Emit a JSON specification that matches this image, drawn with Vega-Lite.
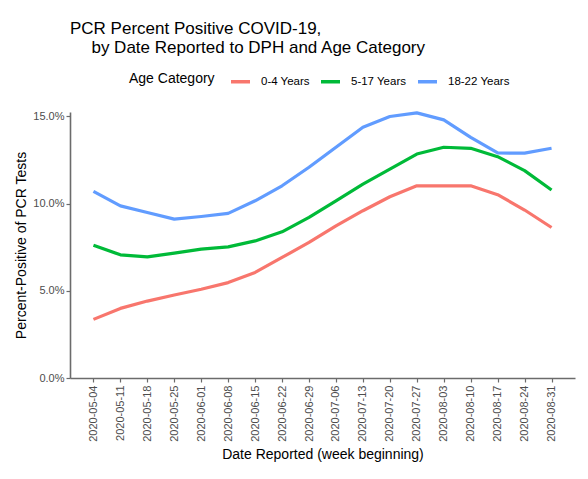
{
  "$schema": "https://vega.github.io/schema/vega-lite/v6.json",
  "width": 505,
  "height": 266,
  "autosize": "none",
  "padding": {"left": 70, "top": 112, "right": 13, "bottom": 101},
  "background": "white",
  "config": {
    "font": "Liberation Sans",
    "view": {"stroke": null},
    "axis": {"grid": false}
  },
  "title": {
    "text": ["PCR Percent Positive COVID-19,", "\u2800\u00a0\u00a0by Date Reported to DPH and Age Category"],
    "anchor": "start",
    "frame": "group",
    "fontSize": 17,
    "fontWeight": "normal",
    "color": "black",
    "lineHeight": 19,
    "offset": 13
  },
  "data": {
    "values": [
      {"week": "2020-05-04", "age": "0-4 Years", "pct": 0.0336},
      {"week": "2020-05-11", "age": "0-4 Years", "pct": 0.0399},
      {"week": "2020-05-18", "age": "0-4 Years", "pct": 0.0441},
      {"week": "2020-05-25", "age": "0-4 Years", "pct": 0.0476},
      {"week": "2020-06-01", "age": "0-4 Years", "pct": 0.0509},
      {"week": "2020-06-08", "age": "0-4 Years", "pct": 0.0547},
      {"week": "2020-06-15", "age": "0-4 Years", "pct": 0.0605},
      {"week": "2020-06-22", "age": "0-4 Years", "pct": 0.0691},
      {"week": "2020-06-29", "age": "0-4 Years", "pct": 0.0777},
      {"week": "2020-07-06", "age": "0-4 Years", "pct": 0.0872},
      {"week": "2020-07-13", "age": "0-4 Years", "pct": 0.0959},
      {"week": "2020-07-20", "age": "0-4 Years", "pct": 0.1039},
      {"week": "2020-07-27", "age": "0-4 Years", "pct": 0.1102},
      {"week": "2020-08-03", "age": "0-4 Years", "pct": 0.1102},
      {"week": "2020-08-10", "age": "0-4 Years", "pct": 0.1102},
      {"week": "2020-08-17", "age": "0-4 Years", "pct": 0.1051},
      {"week": "2020-08-24", "age": "0-4 Years", "pct": 0.0963},
      {"week": "2020-08-31", "age": "0-4 Years", "pct": 0.0863},
      {"week": "2020-05-04", "age": "5-17 Years", "pct": 0.0761},
      {"week": "2020-05-11", "age": "5-17 Years", "pct": 0.0706},
      {"week": "2020-05-18", "age": "5-17 Years", "pct": 0.0694},
      {"week": "2020-05-25", "age": "5-17 Years", "pct": 0.0716},
      {"week": "2020-06-01", "age": "5-17 Years", "pct": 0.0739},
      {"week": "2020-06-08", "age": "5-17 Years", "pct": 0.0752},
      {"week": "2020-06-15", "age": "5-17 Years", "pct": 0.0786},
      {"week": "2020-06-22", "age": "5-17 Years", "pct": 0.0838},
      {"week": "2020-06-29", "age": "5-17 Years", "pct": 0.0921},
      {"week": "2020-07-06", "age": "5-17 Years", "pct": 0.1016},
      {"week": "2020-07-13", "age": "5-17 Years", "pct": 0.1112},
      {"week": "2020-07-20", "age": "5-17 Years", "pct": 0.1198},
      {"week": "2020-07-27", "age": "5-17 Years", "pct": 0.1284},
      {"week": "2020-08-03", "age": "5-17 Years", "pct": 0.1323},
      {"week": "2020-08-10", "age": "5-17 Years", "pct": 0.1317},
      {"week": "2020-08-17", "age": "5-17 Years", "pct": 0.1269},
      {"week": "2020-08-24", "age": "5-17 Years", "pct": 0.1189},
      {"week": "2020-08-31", "age": "5-17 Years", "pct": 0.1078},
      {"week": "2020-05-04", "age": "18-22 Years", "pct": 0.1070},
      {"week": "2020-05-11", "age": "18-22 Years", "pct": 0.0987},
      {"week": "2020-05-18", "age": "18-22 Years", "pct": 0.0949},
      {"week": "2020-05-25", "age": "18-22 Years", "pct": 0.0911},
      {"week": "2020-06-01", "age": "18-22 Years", "pct": 0.0926},
      {"week": "2020-06-08", "age": "18-22 Years", "pct": 0.0944},
      {"week": "2020-06-15", "age": "18-22 Years", "pct": 0.1016},
      {"week": "2020-06-22", "age": "18-22 Years", "pct": 0.1102},
      {"week": "2020-06-29", "age": "18-22 Years", "pct": 0.1208},
      {"week": "2020-07-06", "age": "18-22 Years", "pct": 0.1323},
      {"week": "2020-07-13", "age": "18-22 Years", "pct": 0.1438},
      {"week": "2020-07-20", "age": "18-22 Years", "pct": 0.1499},
      {"week": "2020-07-27", "age": "18-22 Years", "pct": 0.1520},
      {"week": "2020-08-03", "age": "18-22 Years", "pct": 0.1480},
      {"week": "2020-08-10", "age": "18-22 Years", "pct": 0.1380},
      {"week": "2020-08-17", "age": "18-22 Years", "pct": 0.1290},
      {"week": "2020-08-24", "age": "18-22 Years", "pct": 0.1289},
      {"week": "2020-08-31", "age": "18-22 Years", "pct": 0.1317}
    ]
  },
  "mark": {"type": "line", "strokeWidth": 3.2, "strokeJoin": "round", "strokeCap": "butt"},
  "encoding": {
    "x": {
      "field": "week",
      "type": "ordinal",
      "scale": {"type": "point", "padding": 0.87},
      "axis": {
        "title": "Date Reported (week beginning)",
        "titleFontSize": 14,
        "titleFontWeight": "normal",
        "titleColor": "black",
        "titlePadding": 6,
        "labelAngle": 270,
        "labelFontSize": 11,
        "labelColor": "#4d4d4d",
        "labelPadding": 3,
        "tickSize": 4,
        "tickColor": "#6b6b6b",
        "tickWidth": 1.2,
        "domainColor": "#6b6b6b",
        "domainWidth": 1.6
      }
    },
    "y": {
      "field": "pct",
      "type": "quantitative",
      "scale": {"domain": [0, 0.1525], "nice": false},
      "axis": {
        "values": [0, 0.05, 0.1, 0.15],
        "format": ".1%",
        "title": "Percent-Positive of PCR Tests",
        "titleFontSize": 14,
        "titleFontWeight": "normal",
        "titleColor": "black",
        "titlePadding": 4,
        "labelFontSize": 11,
        "labelColor": "#4d4d4d",
        "labelPadding": 2,
        "tickSize": 4,
        "tickColor": "#6b6b6b",
        "tickWidth": 1.2,
        "domainColor": "#6b6b6b",
        "domainWidth": 1.6
      }
    },
    "color": {
      "field": "age",
      "type": "nominal",
      "scale": {
        "domain": ["0-4 Years", "5-17 Years", "18-22 Years"],
        "range": ["#F8766D", "#00BA38", "#619CFF"]
      },
      "legend": {
        "title": "Age Category",
        "orient": "none",
        "legendX": 59,
        "legendY": -42,
        "direction": "horizontal",
        "titleOrient": "left",
        "titleBaseline": "middle",
        "titleFontSize": 14,
        "titleFontWeight": "normal",
        "titleColor": "black",
        "titlePadding": 14,
        "labelFontSize": 11.5,
        "labelColor": "black",
        "labelOffset": 9,
        "columnPadding": 4,
        "symbolType": "stroke",
        "symbolSize": 361,
        "symbolStrokeWidth": 3.5
      }
    }
  }
}
